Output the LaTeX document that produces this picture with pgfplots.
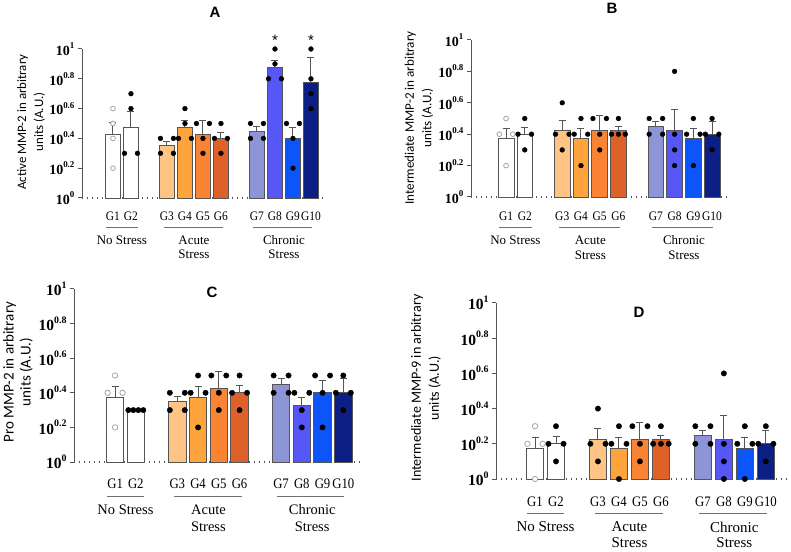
\documentclass[border=0pt]{standalone}
\usepackage{fontspec}
\setmainfont{Liberation Serif}
\newfontfamily\glab[FakeStretch=0.88]{Liberation Serif}
\newfontfamily\sansf{Carlito}
\newfontfamily\ttlf{Liberation Sans}
\usepackage{pgfplots}
\pgfplotsset{compat=1.18}

\definecolor{cG3}{HTML}{FEC486}
\definecolor{cG4}{HTML}{FDA43C}
\definecolor{cG5}{HTML}{FB8434}
\definecolor{cG6}{HTML}{DD6128}
\definecolor{cG7}{HTML}{8E95D6}
\definecolor{cG8}{HTML}{5757F7}
\definecolor{cG9}{HTML}{0C55F8}
\definecolor{cG10}{HTML}{0B1F84}
\definecolor{edge}{HTML}{555555}
\definecolor{grp}{HTML}{707070}

\newcommand{\tl}[1]{10\raisebox{0.48em}{\fontsize{0.64em}{0.7em}\selectfont #1}}

\pgfplotsset{
 panel/.style={
   scale only axis, anchor=south west, clip=false,
   ymin=0, ymax=1, enlargelimits=false,
   axis lines=left, axis line style={-},
   x axis line style={draw=none},
   y axis line style={draw=edge, line width=1pt},
   ytick={0,0.2,0.4,0.6,0.8,1},
   yticklabels={\tl{0},\tl{0.2},\tl{0.4},\tl{0.6},\tl{0.8},\tl{1}},
   ytick style={draw=edge, line width=1pt},
   tick align=outside, major tick length=4pt,
   xtick={0,1,3,4,5,6,8,9,10,11},
   xticklabels={G1,G2,G3,G4,G5,G6,G7,G8,G9,G10},
   x tick style={draw=none},
   xticklabel style={anchor=center},
 },
 bar/.style={ybar, bar shift=0pt, bar width=0.84, draw=edge, line width=0.8pt,
   error bars/y dir=plus, error bars/y explicit,
   error bars/error bar style={edge, line width=1pt},
   error bars/error mark options={rotate=90, edge, line width=1pt, mark size=3.5pt}},
 dots/.style={only marks, mark=*, mark size=2.4pt, black},
 odots/.style={only marks, mark=*, mark size=2.4pt, mark options={fill=white, draw=gray!70, line width=0.8pt}},
 base/.style={edge, line width=1.3pt, dash pattern=on 1.3pt off 3.7pt},
}
\tikzset{grpline/.style={grp, line width=1pt}}

\newcommand{\groups}[4]{%
 \draw[grpline] ([yshift=-#1]axis cs:-0.4,0) -- ([yshift=-#1]axis cs:1.38,0);
 \draw[grpline] ([yshift=-#1]axis cs:2.85,0) -- ([yshift=-#1]axis cs:6.1,0);
 \draw[grpline] ([yshift=-#1]axis cs:7.8,0) -- ([yshift=-#1]axis cs:11.05,0);
 \node[font=#4] at ([yshift=-#2]axis cs:0.5,0) {No Stress};
 \node[font=#4] at ([yshift=-#2]axis cs:4.5,0) {Acute};
 \node[font=#4] at ([yshift=-#3]axis cs:4.5,0) {Stress};
 \node[font=#4] at ([yshift=-#2]axis cs:9.5,0) {Chronic};
 \node[font=#4] at ([yshift=-#3]axis cs:9.5,0) {Stress};
}

\begin{document}
\begin{tikzpicture}
\path[use as bounding box] (0,0) rectangle (791pt,551pt);

% ---------------- Panel A ----------------
\begin{axis}[panel, at={(82pt,353pt)}, width=243pt, height=149pt, xmin=-1.72, xmax=11.78,
  yticklabel style={font=\fontsize{14}{14}\selectfont\bfseries},
  xticklabel style={font=\glab\fontsize{13}{13}\selectfont, yshift=-14pt}]
\addplot[base] coordinates {(-1.72,0) (11.78,0)};
\addplot[fill=white, bar] coordinates {(0,0.425) +- (0,0.083)};
\addplot[fill=white, bar] coordinates {(1,0.475) +- (0,0.105)};
\addplot[fill=cG3, bar] coordinates {(3,0.35) +- (0,0.028)};
\addplot[fill=cG4, bar] coordinates {(4,0.475) +- (0,0.048)};
\addplot[fill=cG5, bar] coordinates {(5,0.425) +- (0,0.094)};
\addplot[fill=cG6, bar] coordinates {(6,0.40) +- (0,0.04)};
\addplot[fill=cG7, bar] coordinates {(8,0.45) +- (0,0.03)};
\addplot[fill=cG8, bar] coordinates {(9,0.875) +- (0,0.045)};
\addplot[fill=cG9, bar] coordinates {(10,0.40) +- (0,0.072)};
\addplot[fill=cG10, bar] coordinates {(11,0.775) +- (0,0.171)};
\addplot[odots] coordinates {(0,0.6) (0,0.5) (0,0.4) (0,0.2)};
\addplot[dots] coordinates {
 (1,0.7) (1,0.6) (0.64,0.3) (1.36,0.3)
 (2.64,0.4) (3.36,0.4) (2.64,0.3) (3.36,0.3)
 (4,0.6) (4,0.5) (3.64,0.4) (4.36,0.4)
 (4.64,0.5) (5.36,0.5) (5,0.4) (5,0.3)
 (6,0.5) (5.64,0.4) (6.36,0.4) (6,0.3)
 (7.64,0.5) (8.36,0.5) (7.64,0.4) (8.36,0.4)
 (9,1.0) (9,0.9) (8.64,0.8) (9.36,0.8)
 (9.64,0.5) (10.36,0.5) (10,0.4) (10,0.2)
 (11,1.0) (11,0.8) (11,0.7) (11,0.6)};
\node[font=\ttlf\fontsize{15}{15}\selectfont] at (axis cs:9,1.06) {*};
\node[font=\ttlf\fontsize{15}{15}\selectfont] at (axis cs:11,1.06) {*};
\groups{30pt}{42pt}{56pt}{\fontsize{13}{13}\selectfont}
\end{axis}

% ---------------- Panel B ----------------
\begin{axis}[panel, at={(471pt,354pt)}, width=257pt, height=157pt, xmin=-1.87, xmax=11.85,
  yticklabel style={font=\fontsize{14}{14}\selectfont\bfseries},
  xticklabel style={font=\glab\fontsize{13}{13}\selectfont, yshift=-15pt}]
\addplot[base] coordinates {(-1.87,0) (11.85,0)};
\addplot[fill=white, bar] coordinates {(0,0.375) +- (0,0.062)};
\addplot[fill=white, bar] coordinates {(1,0.40) +- (0,0.04)};
\addplot[fill=cG3, bar] coordinates {(3,0.425) +- (0,0.06)};
\addplot[fill=cG4, bar] coordinates {(4,0.375) +- (0,0.06)};
\addplot[fill=cG5, bar] coordinates {(5,0.425) +- (0,0.097)};
\addplot[fill=cG6, bar] coordinates {(6,0.425) +- (0,0.027)};
\addplot[fill=cG7, bar] coordinates {(8,0.45) +- (0,0.03)};
\addplot[fill=cG8, bar] coordinates {(9,0.425) +- (0,0.13)};
\addplot[fill=cG9, bar] coordinates {(10,0.375) +- (0,0.062)};
\addplot[fill=cG10, bar] coordinates {(11,0.40) +- (0,0.08)};
\addplot[odots] coordinates {(0,0.5) (-0.36,0.4) (0.36,0.4) (0,0.2)};
\addplot[dots] coordinates {
 (1,0.5) (0.64,0.4) (1.36,0.4) (1,0.3)
 (3,0.6) (2.64,0.4) (3.36,0.4) (3,0.3)
 (4,0.5) (3.64,0.4) (4.36,0.4) (4,0.2)
 (4.64,0.5) (5.36,0.5) (5,0.4) (5,0.3)
 (6,0.5) (5.63,0.4) (6,0.4) (6.37,0.4)
 (7.64,0.5) (8.36,0.5) (7.64,0.4) (8.36,0.4)
 (9,0.8) (9,0.4) (9,0.3) (9,0.2)
 (10,0.5) (9.64,0.4) (10.36,0.4) (10,0.2)
 (11,0.5) (10.64,0.4) (11.36,0.4) (11,0.3)};
\groups{31pt}{43pt}{58pt}{\fontsize{13}{13}\selectfont}
\end{axis}

% ---------------- Panel C ----------------
\begin{axis}[panel, at={(74pt,89pt)}, width=288pt, height=173pt, xmin=-1.98, xmax=11.9,
  yticklabel style={font=\fontsize{15.5}{15.5}\selectfont\bfseries},
  xticklabel style={font=\glab\fontsize{14.5}{14.5}\selectfont, yshift=-18pt}]
\addplot[base] coordinates {(-1.98,0) (11.9,0)};
\addplot[fill=white, bar] coordinates {(0,0.375) +- (0,0.064)};
\addplot[fill=white, bar] coordinates {(1,0.30)};
\addplot[fill=cG3, bar] coordinates {(3,0.35) +- (0,0.028)};
\addplot[fill=cG4, bar] coordinates {(4,0.375) +- (0,0.064)};
\addplot[fill=cG5, bar] coordinates {(5,0.425) +- (0,0.097)};
\addplot[fill=cG6, bar] coordinates {(6,0.40) +- (0,0.041)};
\addplot[fill=cG7, bar] coordinates {(8,0.45) +- (0,0.03)};
\addplot[fill=cG8, bar] coordinates {(9,0.325) +- (0,0.047)};
\addplot[fill=cG9, bar] coordinates {(10,0.40) +- (0,0.07)};
\addplot[fill=cG10, bar] coordinates {(11,0.40) +- (0,0.084)};
\addplot[odots, mark size=2.7pt] coordinates {(0,0.5) (-0.36,0.4) (0.36,0.4) (0,0.2)};
\addplot[dots, mark size=2.7pt] coordinates {
 (0.64,0.3) (0.88,0.3) (1.12,0.3) (1.36,0.3)
 (2.64,0.4) (3.36,0.4) (2.64,0.3) (3.36,0.3)
 (4,0.5) (3.64,0.4) (4.36,0.4) (4,0.2)
 (4.64,0.5) (5.36,0.5) (5,0.4) (5,0.3)
 (6,0.5) (5.64,0.4) (6.36,0.4) (6,0.3)
 (7.64,0.5) (8.36,0.5) (7.64,0.4) (8.36,0.4)
 (8.64,0.4) (9.36,0.4) (9,0.3) (9,0.2)
 (9.64,0.5) (10.36,0.5) (10,0.4) (10,0.2)
 (11,0.5) (10.64,0.4) (11.36,0.4) (11,0.3)};
\groups{34pt}{48pt}{65pt}{\fontsize{14.5}{14.5}\selectfont}
\end{axis}

% ---------------- Panel D ----------------
\begin{axis}[panel, at={(496pt,72pt)}, width=295pt, height=176pt, xmin=-1.86, xmax=12.2,
  yticklabel style={font=\fontsize{15.5}{15.5}\selectfont\bfseries},
  xticklabel style={font=\glab\fontsize{14.5}{14.5}\selectfont, yshift=-19pt}]
\addplot[base] coordinates {(-1.86,0) (12.2,0)};
\addplot[fill=white, bar] coordinates {(0,0.175) +- (0,0.06)};
\addplot[fill=white, bar] coordinates {(1,0.20) +- (0,0.04)};
\addplot[fill=cG3, bar] coordinates {(3,0.225) +- (0,0.06)};
\addplot[fill=cG4, bar] coordinates {(4,0.175) +- (0,0.06)};
\addplot[fill=cG5, bar] coordinates {(5,0.225) +- (0,0.095)};
\addplot[fill=cG6, bar] coordinates {(6,0.225) +- (0,0.025)};
\addplot[fill=cG7, bar] coordinates {(8,0.25) +- (0,0.028)};
\addplot[fill=cG8, bar] coordinates {(9,0.225) +- (0,0.135)};
\addplot[fill=cG9, bar] coordinates {(10,0.175) +- (0,0.06)};
\addplot[fill=cG10, bar] coordinates {(11,0.20) +- (0,0.078)};
\addplot[odots, mark size=2.7pt] coordinates {(0,0.3) (-0.36,0.2) (0.36,0.2) (0,0)};
\addplot[dots, mark size=2.7pt] coordinates {
 (1,0.3) (0.64,0.2) (1.36,0.2) (1,0.1)
 (3,0.4) (2.64,0.2) (3.36,0.2) (3,0.1)
 (4,0.3) (3.64,0.2) (4.36,0.2) (4,0)
 (4.64,0.3) (5.36,0.3) (5,0.2) (5,0.1)
 (6,0.3) (5.63,0.2) (6,0.2) (6.37,0.2)
 (7.64,0.3) (8.36,0.3) (7.64,0.2) (8.36,0.2)
 (9,0.6) (9,0.2) (9,0.1) (9,0)
 (10,0.3) (9.64,0.2) (10.36,0.2) (10,0)
 (11,0.3) (10.64,0.2) (11.36,0.2) (11,0.1)};
\groups{34pt}{48pt}{64pt}{\fontsize{15}{15}\selectfont}
\end{axis}

% titles
\node[font=\ttlf\bfseries\fontsize{15}{15}\selectfont] at (215pt,539pt) {A};
\node[font=\ttlf\bfseries\fontsize{15}{15}\selectfont] at (612pt,543pt) {B};
\node[font=\ttlf\bfseries\fontsize{15}{15}\selectfont] at (212pt,259pt) {C};
\node[font=\ttlf\bfseries\fontsize{15}{15}\selectfont] at (639pt,239pt) {D};

% y labels
\node[rotate=90, align=center, font=\sansf\fontsize{12.9}{17}\selectfont] at (31pt,429pt) {Active MMP-2 in arbitrary\\units (A.U.)};
\node[rotate=90, align=center, font=\sansf\fontsize{13.1}{17.5}\selectfont] at (419pt,433pt) {Intermediate MMP-2 in arbitrary\\units (A.U.)};
\node[rotate=90, align=center, font=\sansf\fontsize{15}{17}\selectfont] at (18pt,179pt) {Pro MMP-2 in arbitrary\\units (A.U.)};
\node[rotate=90, align=center, font=\sansf\fontsize{14.1}{18}\selectfont] at (426pt,163pt) {Intermediate MMP-9 in arbitrary\\units (A.U.)};
\end{tikzpicture}
\end{document}
